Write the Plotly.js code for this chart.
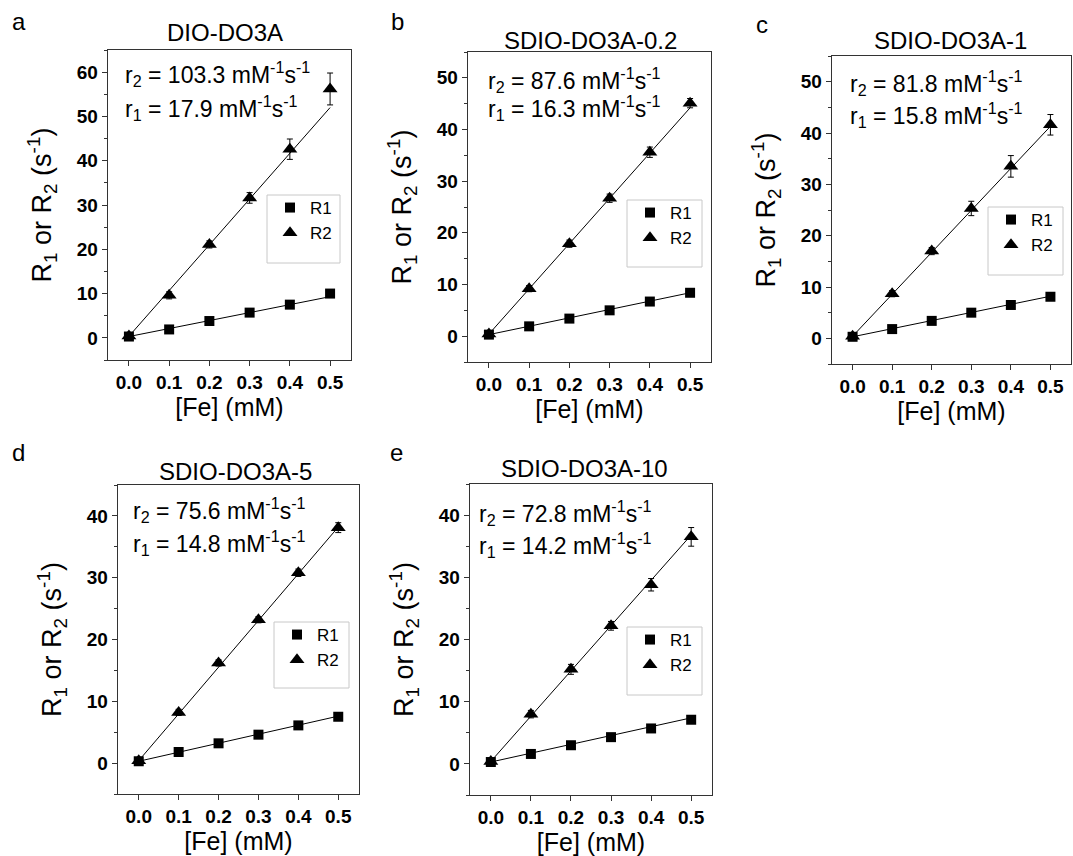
<!DOCTYPE html>
<html>
<head>
<meta charset="utf-8">
<script src="https://cdn.plot.ly/plotly-3.0.1.min.js"></script>
<style>html,body{margin:0;padding:0;background:#fff;}#chart{width:1073px;height:856px;}</style>
</head>
<body>
<div id="chart"></div>
<script>
// ---- data ----
const fe = [0, 0.1, 0.2, 0.3, 0.4, 0.5];
const fitX = [0, 0.5];
const panelLetters = ["a", "b", "c", "d", "e"];
const panelTitles = ["DIO-DO3A", "SDIO-DO3A-0.2", "SDIO-DO3A-1", "SDIO-DO3A-5", "SDIO-DO3A-10"];
const r2Labels = ["103.3", "87.6", "81.8", "75.6", "72.8"];
const r1Labels = ["17.9", "16.3", "15.8", "14.8", "14.2"];

const R1_a = [0.3, 1.9, 3.8, 5.7, 7.5, 10.0];
const R1_b = [0.3, 1.9, 3.4, 5.0, 6.7, 8.4];
const R1_c = [0.3, 1.8, 3.4, 5.0, 6.5, 8.1];
const R1_d = [0.3, 1.8, 3.2, 4.6, 6.1, 7.5];
const R1_e = [0.3, 1.6, 3.0, 4.3, 5.7, 7.1];

const R2_a = [0.4, 9.6, 21.1, 31.6, 42.6, 56.2];
const R2_b = [0.4, 9.2, 17.9, 26.7, 35.6, 45.1];
const R2_c = [0.4, 8.7, 17.0, 25.3, 33.5, 41.6];
const R2_d = [0.4, 8.2, 16.2, 23.2, 30.8, 38.1];
const R2_e = [0.4, 8.0, 15.2, 22.2, 28.8, 36.5];

const R2err_a = [0.3, 0.8, 0.8, 1.2, 2.3, 3.6];
const R2err_b = [0.3, 0.6, 0.7, 0.8, 1.0, 0.9];
const R2err_c = [0.3, 0.6, 0.7, 1.4, 2.1, 2.0];
const R2err_d = [0.3, 0.5, 0.5, 0.5, 0.6, 0.8];
const R2err_e = [0.3, 0.6, 0.8, 0.7, 1.0, 1.5];

const fitR1_a = [0.3, 9.3];
const fitR1_b = [0.3, 8.4];
const fitR1_c = [0.3, 8.2];
const fitR1_d = [0.3, 7.6];
const fitR1_e = [0.3, 7.4];

const fitR2_a = [0.35, 52.0];
const fitR2_b = [0.4, 44.2];
const fitR2_c = [0.4, 41.3];
const fitR2_d = [0.4, 38.2];
const fitR2_e = [0.4, 36.8];

const yRanges = [[-5, 65], [-5, 55], [-5, 55], [-5, 45], [-5, 45]];

// ---- layout geometry (pixels) ----
const W = 1073, H = 856;
const boxes = [
  {x0: 108, x1: 351, y0: 50, y1: 360},
  {x0: 468, x1: 711, y0: 52, y1: 362},
  {x0: 832, x1: 1071, y0: 56, y1: 364},
  {x0: 118, x1: 359, y0: 485, y1: 794},
  {x0: 470, x1: 712, y0: 484, y1: 795}
];
const letterPos = [[19, 22], [397, 22], [762, 24], [18, 453], [396, 452]];
const titlePos = [[225, 33], [590, 40], [950, 40], [235, 472], [584, 468]];
const annPos = [[123, 74, 108], [486, 80, 108], [848, 83, 115], [131, 510, 543], [477, 513, 545]];
const legBox = [
  {x0: 267, x1: 340, y0: 195, y1: 263},
  {x0: 627, x1: 702, y0: 200, y1: 267},
  {x0: 988, x1: 1063, y0: 207, y1: 275},
  {x0: 274, x1: 349, y0: 622, y1: 688},
  {x0: 627, x1: 702, y0: 627, y1: 695}
];

const R1s = [R1_a, R1_b, R1_c, R1_d, R1_e];
const R2s = [R2_a, R2_b, R2_c, R2_d, R2_e];
const R2errs = [R2err_a, R2err_b, R2err_c, R2err_d, R2err_e];
const fitR1s = [fitR1_a, fitR1_b, fitR1_c, fitR1_d, fitR1_e];
const fitR2s = [fitR2_a, fitR2_b, fitR2_c, fitR2_d, fitR2_e];

const FONT = "Liberation Sans, Arial, sans-serif";
const px = x => x / W;
const py = y => 1 - y / H;

const traces = [];
const layout = {
  width: W, height: H,
  margin: {l: 0, r: 0, t: 0, b: 0},
  paper_bgcolor: "#fff", plot_bgcolor: "#fff",
  font: {family: FONT, color: "#000"},
  showlegend: true,
  annotations: [], shapes: []
};

for (let i = 0; i < 5; i++) {
  const sfx = i === 0 ? "" : String(i + 1);
  const xa = "x" + sfx, ya = "y" + sfx;
  const legName = i === 0 ? "legend" : "legend" + (i + 1);
  const b = boxes[i];

  traces.push({x: fitX, y: fitR1s[i], xaxis: xa, yaxis: ya, mode: "lines",
    line: {color: "#000", width: 1}, showlegend: false, hoverinfo: "skip"});
  traces.push({x: fitX, y: fitR2s[i], xaxis: xa, yaxis: ya, mode: "lines",
    line: {color: "#000", width: 1}, showlegend: false, hoverinfo: "skip"});
  traces.push({x: fe, y: R1s[i], xaxis: xa, yaxis: ya, mode: "markers", name: "R1",
    legend: legName, marker: {symbol: "square", size: 10, color: "#000"}});
  traces.push({x: fe, y: R2s[i], xaxis: xa, yaxis: ya, mode: "markers", name: "R2",
    legend: legName,
    error_y: {type: "data", array: R2errs[i], visible: true, color: "#000", thickness: 1, width: 3},
    marker: {symbol: "triangle-up", size: 13, color: "#000"}});

  layout["xaxis" + sfx] = {
    domain: [px(b.x0), px(b.x1)], anchor: ya, range: [-0.052, 0.552],
    tickvals: fe, ticktext: ["0.0", "0.1", "0.2", "0.3", "0.4", "0.5"],
    ticks: "outside", ticklen: 5, tickwidth: 1, tickcolor: "#333",
    showline: true, linecolor: "#333", linewidth: 1.3, mirror: true,
    showgrid: false, zeroline: false,
    tickfont: {family: FONT, size: 19, weight: "bold", color: "#000"},
    title: {text: "[Fe] (mM)", font: {family: FONT, size: 25, color: "#000"}, standoff: 3}
  };
  layout["yaxis" + sfx] = {
    domain: [py(b.y1), py(b.y0)], anchor: xa, range: yRanges[i], dtick: 10,
    ticks: "outside", ticklen: 5, tickwidth: 1, tickcolor: "#333",
    minor: {dtick: 5, ticks: "outside", ticklen: 3, tickcolor: "#333", showgrid: false},
    showline: true, linecolor: "#333", linewidth: 1.3, mirror: true,
    showgrid: false, zeroline: false,
    tickfont: {family: FONT, size: 19, weight: "bold", color: "#000"},
    title: {text: "R<sub>1</sub> or R<sub>2</sub> (s<sup>-1</sup>)",
      font: {family: FONT, size: 27, color: "#000"}, standoff: 17}
  };

  const lb = legBox[i];
  layout[legName] = {
    x: px(lb.x0 + 3), y: py(lb.y0 - 5), xanchor: "left", yanchor: "top",
    bgcolor: "rgba(0,0,0,0)", borderwidth: 0,
    font: {family: FONT, size: 17, color: "#000"}, tracegroupgap: 0
  };
  layout.shapes.push({type: "rect", xref: "paper", yref: "paper",
    x0: px(lb.x0), x1: px(lb.x1), y0: py(lb.y1), y1: py(lb.y0),
    line: {color: "#c8c8c8", width: 1}, fillcolor: "rgba(0,0,0,0)"});

  layout.annotations.push({text: panelLetters[i], xref: "paper", yref: "paper",
    x: px(letterPos[i][0]), y: py(letterPos[i][1]), xanchor: "center", yanchor: "middle",
    showarrow: false, font: {family: FONT, size: 24, color: "#000"}});
  layout.annotations.push({text: panelTitles[i], xref: "paper", yref: "paper",
    x: px(titlePos[i][0]), y: py(titlePos[i][1]), xanchor: "center", yanchor: "middle",
    showarrow: false, font: {family: FONT, size: 24, color: "#000"}});
  const ap = annPos[i];
  layout.annotations.push({text: "r<sub>2</sub> = " + r2Labels[i] + " mM<sup>-1</sup>s<sup>-1</sup>",
    xref: "paper", yref: "paper", x: px(ap[0]), y: py(ap[1]), xanchor: "left", yanchor: "middle",
    showarrow: false, font: {family: FONT, size: 23, color: "#000"}});
  layout.annotations.push({text: "r<sub>1</sub> = " + r1Labels[i] + " mM<sup>-1</sup>s<sup>-1</sup>",
    xref: "paper", yref: "paper", x: px(ap[0]), y: py(ap[2]), xanchor: "left", yanchor: "middle",
    showarrow: false, font: {family: FONT, size: 23, color: "#000"}});
}

Plotly.newPlot("chart", traces, layout, {displayModeBar: false, staticPlot: true});
</script>
</body>
</html>
